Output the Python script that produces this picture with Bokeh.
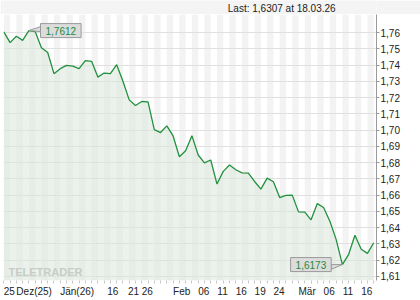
from bokeh.plotting import figure
from bokeh.models import Range1d, FixedTicker, CustomJSTickFormatter, Label
from bokeh.layouts import column
from bokeh.embed import file_html
from bokeh.resources import INLINE

# ---- data ----
values = [1.7604, 1.7538, 1.7577, 1.7552, 1.7612, 1.7606, 1.7507, 1.7477, 1.7347, 1.7378,
          1.7398, 1.7394, 1.7378, 1.7427, 1.7423, 1.7326, 1.7351, 1.7347, 1.7402, 1.7300,
          1.7186, 1.7151, 1.7176, 1.7174, 1.7003, 1.6985, 1.7026, 1.6964, 1.6836, 1.6873,
          1.6966, 1.6847, 1.6798, 1.6816, 1.6668, 1.6746, 1.6785, 1.6756, 1.6737, 1.6736,
          1.6684, 1.6637, 1.6705, 1.6682, 1.6585, 1.6598, 1.6600, 1.6497, 1.6495, 1.6448,
          1.6548, 1.6524, 1.6440, 1.6328, 1.6173, 1.6236, 1.6353, 1.6267, 1.6242, 1.6307]
tick_pos = [0, 2, 9, 16.5, 19.8, 22, 27, 31, 34, 37, 40, 43, 47, 51, 54, 57]
tick_labels = ["25", "Dez(25)", "Jän(26)", "16", "21", "26", "Feb", "06", "11", "16",
               "19", "24", "Mär", "06", "11", "16"]
y_ticks = [1.61, 1.62, 1.63, 1.64, 1.65, 1.66, 1.67, 1.68, 1.69, 1.70,
           1.71, 1.72, 1.73, 1.74, 1.75, 1.76]
last_text = "Last: 1,6307 at 18.03.26"
hi_text = "1,7612"
lo_text = "1,6173"
logo_text = "TELETRADER"

FONT = "Liberation Sans"
GREEN = "#22913d"

n = len(values)
idx = list(range(n))
X0, X1 = -0.05, 59.44
Y0, Y1 = 1.6075, 1.7711
W, H = 420, 286
BL, BR, BT, BB = 3, 44, 0, 20
sx = (W - BL - BR) / (X1 - X0)   # px per x unit
sy = (H - BT - BB) / (Y1 - Y0)   # px per y unit

# approximate advance widths (em/1000) of Liberation Sans, to left-align axis labels
ADV = {c: 556 for c in "0123456789"}
ADV.update({"D": 722, "e": 556, "z": 500, "(": 333, ")": 333, "J": 500, "ä": 556,
            "n": 556, "F": 611, "b": 556, "M": 833, "r": 333})
def text_w(s, size=10):
    return sum(ADV.get(c, 556) for c in s) * size / 1000.0

label_centers = [t + text_w(l) / 2 / sx for t, l in zip(tick_pos, tick_labels)]

# ---- header band ----
h = figure(width=420, height=14, x_range=Range1d(0, 420), y_range=Range1d(0, 14),
           output_backend="svg", toolbar_location=None, min_border=0,
           min_border_left=0, min_border_right=0, min_border_top=0, min_border_bottom=0,
           x_axis_type=None, y_axis_type=None,
           background_fill_color="#f4f4f4", border_fill_color="#f4f4f4",
           outline_line_color=None)
h.add_layout(Label(x=374, y=6, text=last_text, text_align="right", text_baseline="middle",
                   text_font_size="10px", text_color="#222222", text_font=FONT))

# ---- main chart ----
p = figure(width=W, height=H, x_range=Range1d(X0, X1), y_range=Range1d(Y0, Y1),
           output_backend="svg", toolbar_location=None, y_axis_location="right",
           min_border_left=BL, min_border_right=BR, min_border_top=BT, min_border_bottom=BB,
           background_fill_color="white", border_fill_color="white",
           outline_line_color=None)

even = idx[0::2]
p.quad(left=even, right=[i + 1 for i in even], bottom=Y0, top=Y1,
       fill_color="#f3f3f3", line_color=None, level="image")

p.xgrid.visible = False
p.ygrid.ticker = FixedTicker(ticks=y_ticks)
p.ygrid.grid_line_color = "#e0e0e0"

p.varea(x=idx, y1=values, y2=[Y0] * n, fill_color="#dae5da", fill_alpha=0.55)
p.line(idx, values, line_color=GREEN, line_width=1.3)

ya = p.yaxis[0]
ya.ticker = FixedTicker(ticks=y_ticks)
ya.formatter = CustomJSTickFormatter(code="return tick.toFixed(2).replace('.', ',');")
ya.axis_line_color = "#9a9a9a"
ya.major_tick_line_color = "#9a9a9a"
ya.major_tick_in = 0
ya.major_tick_out = 3
ya.minor_tick_line_color = None
ya.major_label_standoff = 1
ya.major_label_text_font_size = "10px"
ya.major_label_text_font = FONT
ya.major_label_text_color = "#222222"

xa = p.xaxis[0]
xa.ticker = FixedTicker(ticks=label_centers, minor_ticks=idx)
xa.major_label_overrides = {c: l for c, l in zip(label_centers, tick_labels)}
xa.axis_line_color = None
xa.major_tick_line_color = None
xa.minor_tick_line_color = "#c8c8c8"
xa.major_tick_in = 0
xa.major_tick_out = 3
xa.minor_tick_in = 0
xa.minor_tick_out = 3
xa.major_label_standoff = 2
xa.major_label_text_font_size = "10px"
xa.major_label_text_font = FONT
xa.major_label_text_color = "#222222"

# ---- callouts ----
imax = values.index(max(values))
imin = values.index(min(values))
vmax, vmin = values[imax], values[imin]

p.patch([imax, imax + 11.6 / sx, imax + 11.6 / sx],
        [vmax, vmax + 4 / sy, vmax - 1 / sy],
        fill_color="#dcdcdc", line_color="#9a9a9a", line_width=1)
p.patch([imin, imin - 11.2 / sx, imin - 11.2 / sx],
        [vmin, vmin, vmin - 4.7 / sy],
        fill_color="#dcdcdc", line_color="#9a9a9a", line_width=1)

pad = dict(left=5, right=5, top=3, bottom=3)
p.add_layout(Label(x=imax, y=vmax, x_offset=11.6, text=hi_text, text_align="left",
                   text_baseline="middle", text_font_size="10px", text_font=FONT,
                   text_color="#1f8a3a", background_fill_color="#dcdcdc",
                   border_line_color="#9a9a9a", padding=pad))
p.add_layout(Label(x=imin, y=vmin, x_offset=-11.2, text=lo_text, text_align="right",
                   text_baseline="middle", text_font_size="10px", text_font=FONT,
                   text_color="#1f8a3a", background_fill_color="#dcdcdc",
                   border_line_color="#9a9a9a", padding=pad))

p.add_layout(Label(x=X0, y=Y0, x_offset=5, y_offset=3, text=logo_text,
                   text_baseline="bottom", text_font_size="11px",
                   text_font=FONT, text_font_style="bold",
                   text_color="#c6ccc6"))

layout = column(h, p, spacing=0)
open("out.html", "w").write(file_html(layout, INLINE))
